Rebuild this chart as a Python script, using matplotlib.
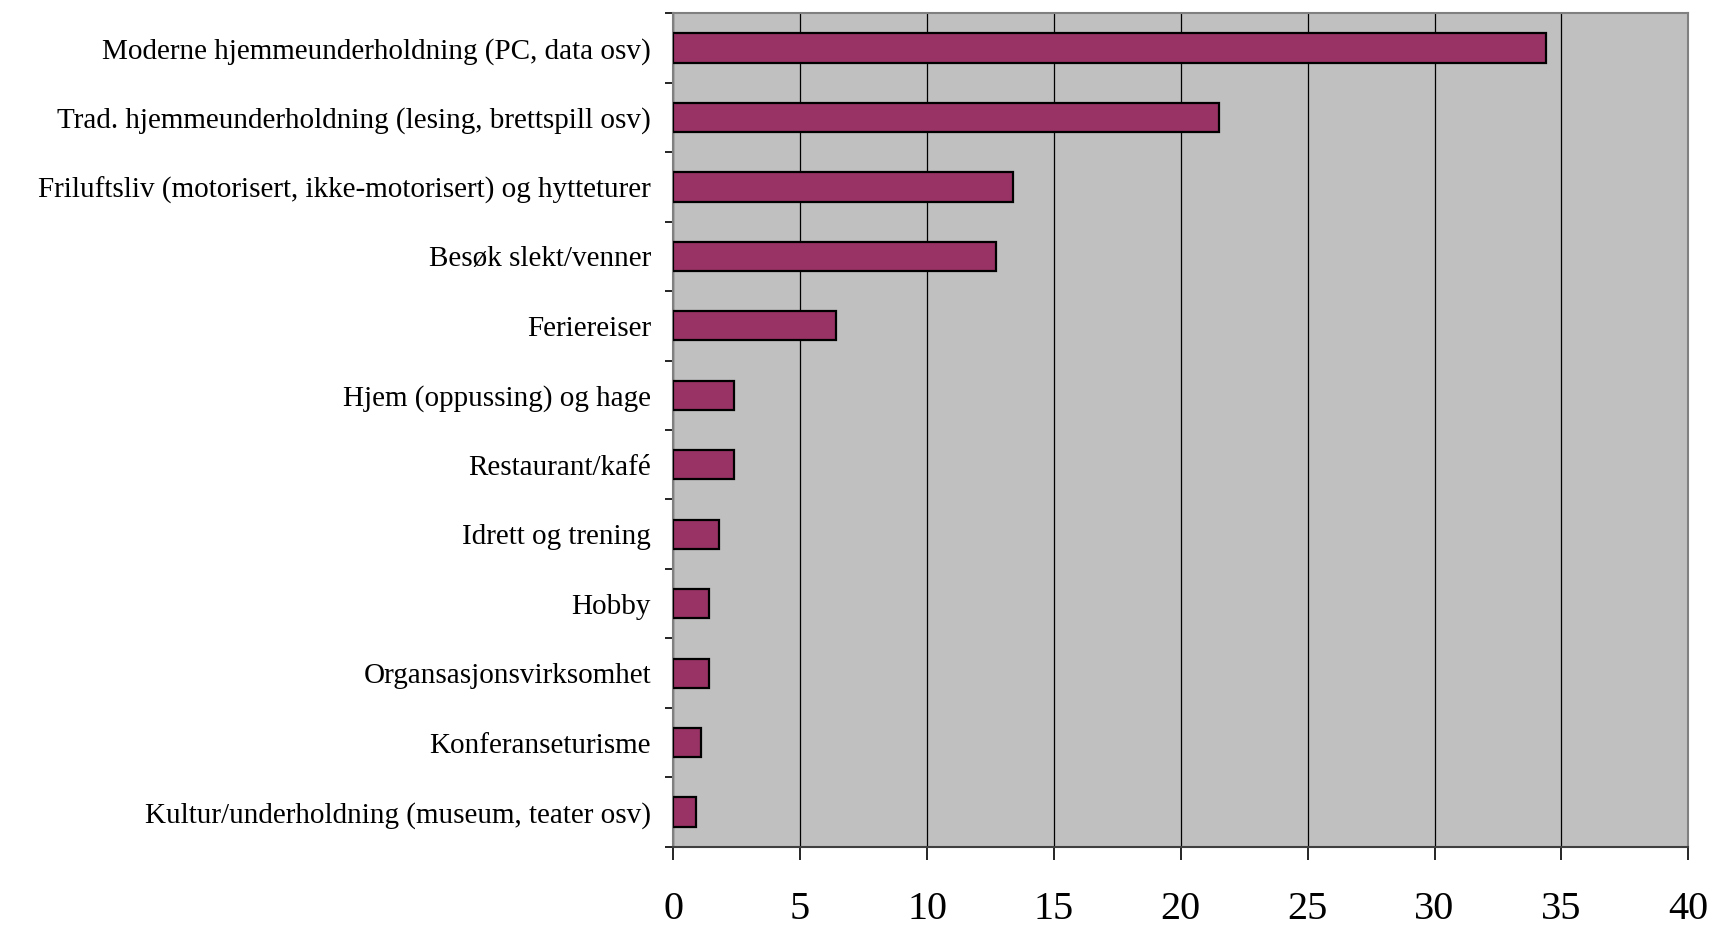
import matplotlib
matplotlib.use("Agg")
import matplotlib.pyplot as plt
import numpy as np

categories = [
    "Moderne hjemmeunderholdning (PC, data osv)",
    "Trad. hjemmeunderholdning (lesing, brettspill osv)",
    "Friluftsliv (motorisert, ikke-motorisert) og hytteturer",
    "Besøk slekt/venner",
    "Feriereiser",
    "Hjem (oppussing) og hage",
    "Restaurant/kafé",
    "Idrett og trening",
    "Hobby",
    "Organsasjonsvirksomhet",
    "Konferanseturisme",
    "Kultur/underholdning (museum, teater osv)",
]
values = [34.4, 21.5, 13.4, 12.7, 6.4, 2.4, 2.4, 1.8, 1.4, 1.4, 1.1, 0.9]
xticks = [0, 5, 10, 15, 20, 25, 30, 35, 40]

plt.rcParams['font.family'] = ['Liberation Serif', 'DejaVu Serif']

fig = plt.figure(figsize=(17.11, 9.26), dpi=100)
ax = fig.add_axes([0.3935, 0.0856, 0.9867 - 0.3935, 0.9856 - 0.0856])
ax.set_facecolor('#C0C0C0')

y = np.arange(len(categories))
ax.barh(y, values, height=0.42, color='#993366', edgecolor='black', linewidth=1.6, zorder=3)

ax.set_xlim(0, 40)
ax.set_ylim(len(categories) - 0.5, -0.5)
ax.set_xticks(xticks)
ax.set_xticklabels([str(t) for t in xticks], fontsize=29)
ax.xaxis.grid(True, color='black', linewidth=0.9, zorder=1)
ax.set_axisbelow(True)

ax.set_yticks(y)
ax.set_yticklabels(categories, fontsize=21)
ax.tick_params(axis='y', which='major', length=0, pad=16)
ax.set_yticks(np.arange(-0.5, len(categories), 1), minor=True)
ax.tick_params(axis='y', which='minor', length=6, width=1.2, color='black', direction='out')
ax.tick_params(axis='x', which='major', length=9, width=1.2, color='black', direction='out', pad=23)

for s in ax.spines.values():
    s.set_color('#808080')
    s.set_linewidth(1.5)
ax.spines['bottom'].set_color('#404040')

fig.savefig('out.png', dpi=100)
